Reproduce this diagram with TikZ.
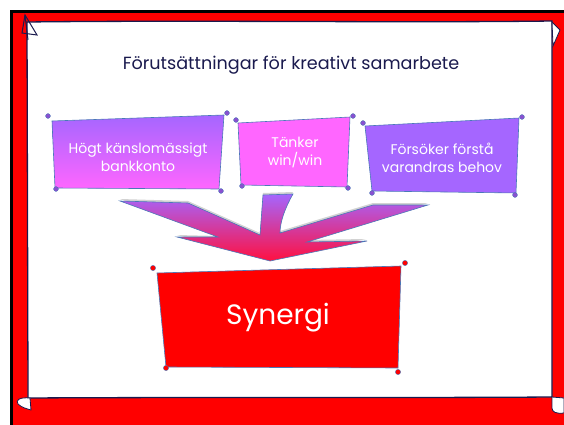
\documentclass[tikz,border=0pt]{standalone}
\usepackage{fontspec}
\setmainfont{Poppins}
\usetikzlibrary{positioning}

\definecolor{navy}{HTML}{1A1A4E}
\definecolor{edgeblue}{HTML}{4A78B8}
\definecolor{lilac}{HTML}{A566FF}
\definecolor{pinkish}{HTML}{FF66FF}
\definecolor{dotpurple}{HTML}{8A50D0}
\definecolor{slidered}{HTML}{FF0000}
\definecolor{arrowred}{HTML}{FF1040}

\begin{document}
\begin{tikzpicture}[x=1pt,y=-1pt,
  boxtext/.style={text=white,align=center,font=\fontsize{14}{18}\selectfont},
  paper/.style={draw=edgeblue,line width=0.6pt},
  curl/.style={fill=#1,draw=edgeblue,line width=0.4pt},
  frame/.style={draw=navy,line width=1.3pt}
]
\useasboundingbox (0,0) rectangle (564,425);
% slide background
\fill[white] (0,0) rectangle (564,425);
\fill[black] (10,10) rectangle (564,425);
\fill[slidered] (13,13) rectangle (564,425);
% paper sheet
\filldraw[fill=white,frame] (27,22) .. controls (200,20) and (400,23) .. (552,21)
  -- (552,397) .. controls (400,398) and (200,397) .. (28,398) -- cycle;
\draw[frame,line width=1pt] (25,15) -- (22,33) -- (37,35) -- cycle;
\draw[frame,line width=1pt] (25,15) -- (28,40);
\filldraw[fill=white,frame,line width=0.8pt] (552,22) -- (560,30) -- (553,46) -- cycle;
\filldraw[fill=white,frame,line width=0.8pt] (30,398) .. controls (20,397) and (15,400) .. (18,404)
  .. controls (22,408) and (28,409) .. (31,410) -- cycle;
\filldraw[fill=white,frame,line width=0.8pt] (552,397) -- (564,398) -- (564,413)
  .. controls (556,414) and (552,412) .. (552,408) -- cycle;

\node[text=navy,font=\fontsize{17.6}{20}\selectfont] (title) at (291,65) {Förutsättningar för kreativt samarbete};

% three boxes
\path[paper,top color=lilac,bottom color=pinkish] (52,121) -- (224,115) -- (219,189) -- (55,188) -- cycle;
\foreach \p in {(48,116),(227,113),(56,189),(221,191)}
  \filldraw[curl=dotpurple] \p circle (2.4pt);
\node[boxtext] (konto) at (138,157) {Högt känslomässigt\\bankkonto};

\path[paper,fill=pinkish] (238,123) -- (350,117) -- (347,187) -- (241,185) -- cycle;
\foreach \p in {(236,120),(353,116),(242,186),(348,188)}
  \filldraw[curl=dotpurple] \p circle (2.4pt);
\node[boxtext] (winwin) at (295,153) {Tänker\\win/win};

\path[paper,fill=lilac] (365,126) -- (519,118) -- (516,193) -- (372,191) -- cycle;
\foreach \p in {(363,123),(522,117),(372,193),(515,195)}
  \filldraw[curl=dotpurple] \p circle (2.4pt);
\node[boxtext] (behov) at (442,158) {Försöker förstå\\varandras behov};

% converging arrow
\fill[gray!35] (120,199) -- (188,201) -- (260,233) -- (263,193) -- (293,192)
  .. controls (285,206) and (280,220) .. (280,231) -- (373,203) -- (428,203)
  -- (306,240) -- (366,239) -- (270,259) -- (177,235) -- (218,236) -- cycle;
\path[paper,top color=lilac,bottom color=arrowred] (120,201) -- (188,203) -- (260,235)
  -- (263,195) -- (293,194) .. controls (285,208) and (280,222) .. (280,233)
  -- (373,205) -- (428,205) -- (307,242) -- (367,241) -- (270,261)
  -- (177,237) -- (218,237) -- cycle;

% result box
\path[paper,fill=slidered] (157,273) -- (401,266) -- (398,368) -- (166,367) -- cycle;
\foreach \p in {(153,268),(405,263),(166,368),(398,372)}
  \filldraw[curl=slidered] \p circle (2.6pt);
\node[text=white,font=\fontsize{28}{32}\selectfont] (synergi) at (278,318) {Synergi};
\end{tikzpicture}
\end{document}
